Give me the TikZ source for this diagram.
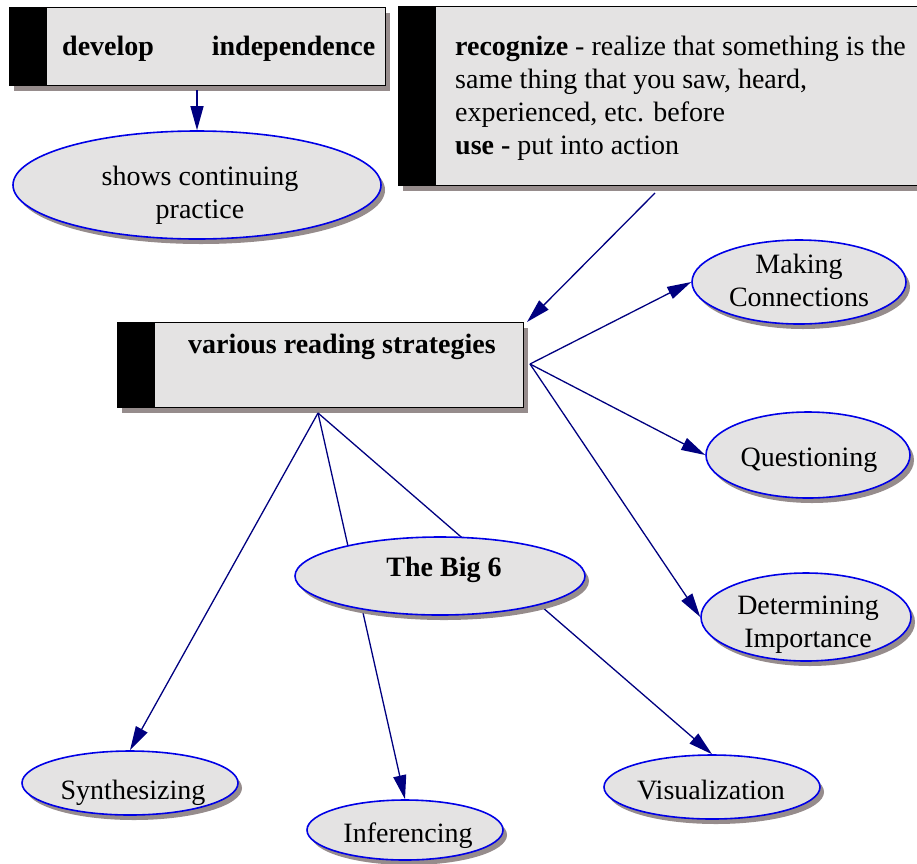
\documentclass[tikz,border=0pt]{standalone}
\usepackage{fontspec}
\setmainfont{Liberation Serif}
\usetikzlibrary{arrows.meta,shapes.geometric,shadows}
\definecolor{boxgrey}{RGB}{228,227,227}
\definecolor{shadowgrey}{RGB}{150,140,140}
\definecolor{edgeblue}{RGB}{0,0,128}
\definecolor{rimblue}{RGB}{0,0,230}

\begin{document}
\begin{tikzpicture}[x=1pt, y=-1pt,
    every node/.style={font=\fontsize{28}{33}\selectfont, inner sep=0pt},
    boldtxt/.style={font=\fontsize{28}{33}\selectfont\bfseries},
    shadowed/.style={drop shadow={shadow xshift=4pt, shadow yshift=-5pt, fill=shadowgrey, opacity=1}},
    conceptbox/.style={rectangle, draw=black, line width=1.4pt, fill=boxgrey, shadowed, anchor=north west},
    idea/.style={ellipse, draw=rimblue, line width=1.6pt, fill=boxgrey, shadowed},
    caption/.style={align=center},
    link/.style={draw=edgeblue, line width=1.3pt},
    tolink/.style={link, -{Triangle[length=24pt, width=13pt]}}]
    \def\barw{38}

    \useasboundingbox (0,0) rectangle (917,863);

    % Define the boxes
    \node[conceptbox, minimum width=376pt, minimum height=78pt] (dev) at (9,7) {};
    \fill (dev.north west) rectangle ([xshift=\barw pt]dev.south west);
    \node[boldtxt, anchor=base west] (dev-t) at (62,55) {\makebox[313pt]{develop\hfill independence}};

    \node[conceptbox, minimum width=540pt, minimum height=179pt] (rec) at (398,6) {};
    \fill (rec.north west) rectangle ([xshift=\barw pt]rec.south west);
    \node[anchor=north west, align=left] (rec-t) at (455,36)
        {\textbf{recognize} - realize that something is the\\
         same thing that you saw, heard,\\
         experienced, etc. before\\
         \textbf{use -} put into action};

    \node[conceptbox, minimum width=406pt, minimum height=85pt] (vrs) at (117,322) {};
    \fill (vrs.north west) rectangle ([xshift=\barw pt]vrs.south west);
    \node[boldtxt, anchor=base west] (vrs-t) at (188,353) {various reading strategies};

    % Define the ellipses
    \node[idea, minimum width=368pt, minimum height=108pt] (sc) at (197,185) {};
    \node[caption, anchor=north] (sc-t) at (200,166) {shows continuing\\practice};

    \node[idea, minimum width=214pt, minimum height=84pt] (mc) at (799,282) {};
    \node[caption, anchor=north] (mc-t) at (799,254) {Making\\Connections};

    \node[idea, minimum width=204pt, minimum height=86pt] (q) at (808,455) {};
    \node[anchor=base] (q-t) at (809,466) {Questioning};

    \node[idea, minimum width=210pt, minimum height=88pt] (di) at (806,617) {};
    \node[caption, anchor=north] (di-t) at (808,596) {Determining\\Importance};

    \node[idea, minimum width=216pt, minimum height=64pt] (syn) at (130,783) {};
    \node[anchor=base] (syn-t) at (133,799) {Synthesizing};

    \node[idea, minimum width=196pt, minimum height=60pt] (inf) at (405,830) {};
    \node[anchor=base] (inf-t) at (408,842) {Inferencing};

    \node[idea, minimum width=216pt, minimum height=64pt] (vis) at (712,787) {};
    \node[anchor=base] (vis-t) at (711,799) {Visualization};

    % Draw the links
    \coordinate (dev-out) at (197,90);
    \coordinate (rec-out) at (655,193);
    \coordinate (vrs-in) at (527,322);
    \coordinate (vrs-r) at (530,364);
    \coordinate (vrs-b) at (318,413);

    \draw[tolink] (dev-out) -- (sc.north);
    \draw[tolink] (rec-out) -- (vrs-in);
    \foreach \t in {mc,q,di}
        \draw[tolink] (vrs-r) -- (\t.west);
    \foreach \t in {syn,inf,vis}
        \draw[tolink] (vrs-b) -- (\t.north);

    % The Big 6 sits on top of two links
    \node[idea, minimum width=290pt, minimum height=78pt] (big) at (440,576) {};
    \node[boldtxt, anchor=base] (big-t) at (444,576) {The Big 6};
\end{tikzpicture}
\end{document}
